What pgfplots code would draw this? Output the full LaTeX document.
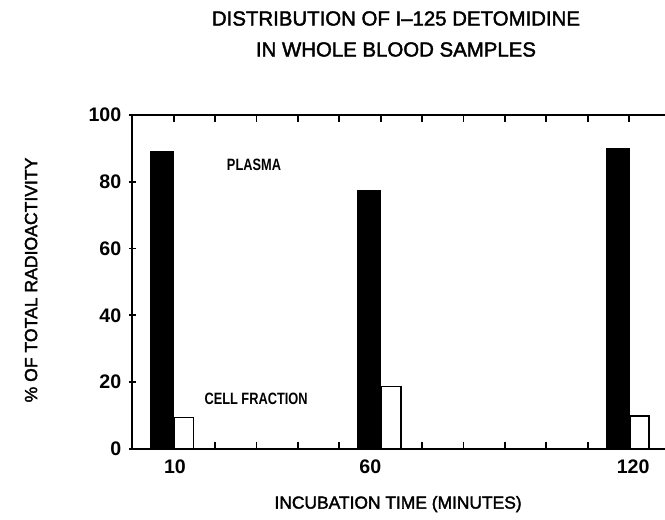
\documentclass[border=0pt]{standalone}
\usepackage{fontspec}
\setmainfont{Liberation Sans}
\newfontfamily\cond{Liberation Sans}[FakeStretch=0.78]
\newfontfamily\medium{Liberation Sans}[FakeBold=2, Ligatures=TeX]
\usepackage{pgfplots}
\pgfplotsset{compat=1.18}
\begin{document}
\begin{tikzpicture}
\useasboundingbox (-66.15pt,-35.5pt) rectangle (266.35pt,224.5pt);
\begin{axis}[
  at={(0,0)}, anchor=south west,
  scale only axis,
  width=266.35pt, height=167pt,
  xmin=0, xmax=128.7, ymin=0, ymax=100,
  axis x line*=box, axis y line*=left,
  axis line style={line width=1pt},
  every tick/.style={line width=0.9pt, black},
  tick align=inside,
  major tick length=3.5pt,
  ytick style={xshift=-1.75pt},
  xtick={10,20,...,120}, xticklabels={},
  ytick={0,20,...,100},
  extra x ticks={10.3,57.5,121},
  extra x tick labels={10,60,120},
  extra x tick style={major tick length=0pt, xticklabel style={yshift=-2pt}},
  /pgf/number format/assume math mode=true,
  tick label style={font=\bfseries\fontsize{9.8}{11}\selectfont},
  yticklabel style={xshift=-2pt},
  title={DISTRIBUTION OF I\textendash 125 DETOMIDINE\\IN WHOLE BLOOD SAMPLES},
  title style={align=center, font=\medium\fontsize{10.2}{15.5}\selectfont,
    at={(axis description cs:0.495,1)}, anchor=center, yshift=34.5pt},
  xlabel={INCUBATION TIME (MINUTES)},
  xlabel style={font=\medium\fontsize{8.7}{10}\selectfont,
    at={(axis description cs:0.499,-0.165)}, anchor=center},
  ylabel={\% OF TOTAL RADIOACTIVITY},
  ylabel style={font=\medium\fontsize{8.8}{10}\selectfont,
    at={(axis description cs:-0.19,0.506)}, anchor=center},
  clip=false,
]
\addplot[ybar, bar width=5.5, bar shift=0pt, fill=black, draw=black, line width=0.5pt]
  coordinates {(7.25,89.2) (57.25,77.5) (117.3,90.0)};
\addplot[ybar, bar width=4.7, bar shift=0pt, fill=white, draw=black, line width=0.8pt]
  coordinates {(12.45,9.4) (62.55,18.7) (122.55,9.9)};
\node[font=\cond\bfseries\fontsize{8.2}{9}\selectfont] at (axis cs:29.4,85.2) {PLASMA};
\node[font=\cond\bfseries\fontsize{8.2}{9}\selectfont] at (axis cs:29.9,15.0) {CELL FRACTION};
\end{axis}
\end{tikzpicture}
\end{document}
